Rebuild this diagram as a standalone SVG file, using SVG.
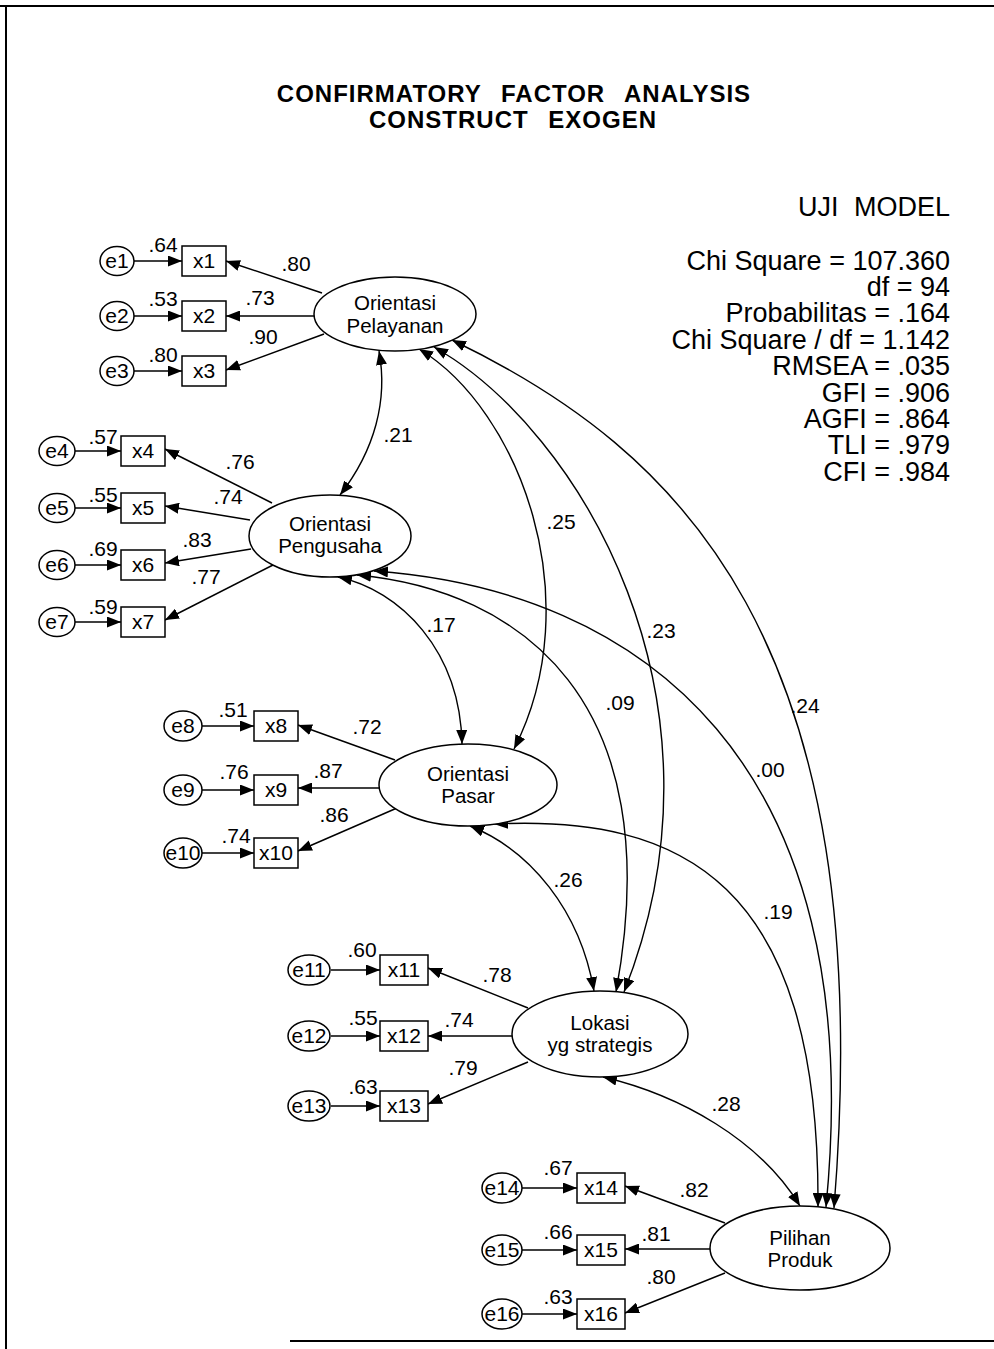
<svg xmlns="http://www.w3.org/2000/svg" width="994" height="1349" viewBox="0 0 994 1349">
<style>
text{font-family:"Liberation Sans",Arial,sans-serif;fill:#000}
.t{font-size:24px;font-weight:bold;text-anchor:middle;word-spacing:12px;letter-spacing:1px}
.s{font-size:27px;text-anchor:end}
.n{font-size:21px;text-anchor:middle}
.lv{font-size:20.5px;text-anchor:middle}
.ob{fill:#fff;stroke:#000;stroke-width:1.5}
.cv{fill:none;stroke:#000;stroke-width:1.4;marker-start:url(#ah);marker-end:url(#ah)}
.ar{fill:none;stroke:#000;stroke-width:1.5;marker-end:url(#ah)}
</style>
<defs>
<marker id="ah" viewBox="0 0 14 11" refX="14" refY="5.5" markerWidth="14" markerHeight="11" markerUnits="userSpaceOnUse" orient="auto-start-reverse">
<path d="M0,0 L14,5.5 L0,11 z" fill="#000"/>
</marker>
</defs>
<rect width="994" height="1349" fill="#fff"/>
<g id="frame">
<line x1="0" y1="6" x2="994" y2="6" stroke="#000" stroke-width="2"/>
<line x1="6" y1="6" x2="6" y2="1349" stroke="#000" stroke-width="2"/>
<line x1="290" y1="1341" x2="994" y2="1341" stroke="#000" stroke-width="2"/>
</g>
<g id="title">
<text class="t" x="514" y="102">CONFIRMATORY FACTOR ANALYSIS</text>
<text class="t" x="513" y="128">CONSTRUCT EXOGEN</text>
</g>
<g id="fit-stats">
<text class="s" x="950" y="216" style="word-spacing:8px">UJI MODEL</text>
<text class="s" x="950" y="270">Chi Square = 107.360</text>
<text class="s" x="950" y="296">df = 94</text>
<text class="s" x="950" y="322">Probabilitas = .164</text>
<text class="s" x="950" y="349">Chi Square / df = 1.142</text>
<text class="s" x="950" y="375">RMSEA = .035</text>
<text class="s" x="950" y="402">GFI = .906</text>
<text class="s" x="950" y="428">AGFI = .864</text>
<text class="s" x="950" y="454">TLI = .979</text>
<text class="s" x="950" y="481">CFI = .984</text>
</g>
<g id="connectors">
<line class="ar" x1="134" y1="261" x2="182" y2="261"/>
<line class="ar" x1="134" y1="316" x2="182" y2="316"/>
<line class="ar" x1="134" y1="371" x2="182" y2="371"/>
<line class="ar" x1="75" y1="451" x2="121" y2="451"/>
<line class="ar" x1="75" y1="508" x2="121" y2="508"/>
<line class="ar" x1="75" y1="565" x2="121" y2="565"/>
<line class="ar" x1="75" y1="622" x2="121" y2="622"/>
<line class="ar" x1="202" y1="726" x2="254" y2="726"/>
<line class="ar" x1="202" y1="790" x2="254" y2="790"/>
<line class="ar" x1="202" y1="853" x2="254" y2="853"/>
<line class="ar" x1="331" y1="970" x2="380" y2="970"/>
<line class="ar" x1="331" y1="1036" x2="380" y2="1036"/>
<line class="ar" x1="331" y1="1106" x2="380" y2="1106"/>
<line class="ar" x1="522" y1="1188" x2="577" y2="1188"/>
<line class="ar" x1="522" y1="1250" x2="577" y2="1250"/>
<line class="ar" x1="522" y1="1314" x2="577" y2="1314"/>
<line class="ar" x1="322" y1="293" x2="226" y2="261"/>
<line class="ar" x1="314" y1="316" x2="226" y2="316"/>
<line class="ar" x1="324" y1="334" x2="226" y2="370"/>
<line class="ar" x1="272" y1="503" x2="165" y2="449"/>
<line class="ar" x1="250" y1="520" x2="165" y2="506"/>
<line class="ar" x1="251" y1="549" x2="165" y2="563"/>
<line class="ar" x1="275" y1="564" x2="165" y2="620"/>
<line class="ar" x1="395" y1="760" x2="298" y2="725"/>
<line class="ar" x1="379" y1="788" x2="298" y2="788"/>
<line class="ar" x1="397" y1="808" x2="298" y2="851"/>
<line class="ar" x1="528" y1="1008" x2="428" y2="968"/>
<line class="ar" x1="512" y1="1036" x2="428" y2="1036"/>
<line class="ar" x1="528" y1="1062" x2="428" y2="1104"/>
<line class="ar" x1="725" y1="1223" x2="625" y2="1186"/>
<line class="ar" x1="710" y1="1249" x2="625" y2="1249"/>
<line class="ar" x1="725" y1="1273" x2="625" y2="1313"/>
<path class="cv" d="M379 351 C388 400,375 450,340 495"/>
<path class="cv" d="M419 349 C520 410,590 600,514 749"/>
<path class="cv" d="M434 347 C580 430,740 700,624 992"/>
<path class="cv" d="M452 340 C680 450,880 640,834 1208"/>
<path class="cv" d="M338 577 C400 590,460 650,462 744"/>
<path class="cv" d="M357 575 C520 590,670 700,616 992"/>
<path class="cv" d="M374 571 C640 590,870 760,826 1207"/>
<path class="cv" d="M470 826 C530 850,580 910,594 991"/>
<path class="cv" d="M494 824 C680 815,820 880,818 1207"/>
<path class="cv" d="M603 1077 C680 1095,760 1140,800 1206"/>
<text class="n" x="163" y="252">.64</text>
<text class="n" x="163" y="306">.53</text>
<text class="n" x="163" y="362">.80</text>
<text class="n" x="296" y="271">.80</text>
<text class="n" x="260" y="305">.73</text>
<text class="n" x="263" y="344">.90</text>
<text class="n" x="103" y="444">.57</text>
<text class="n" x="103" y="502">.55</text>
<text class="n" x="103" y="556">.69</text>
<text class="n" x="103" y="614">.59</text>
<text class="n" x="240" y="469">.76</text>
<text class="n" x="228" y="504">.74</text>
<text class="n" x="197" y="547">.83</text>
<text class="n" x="206" y="584">.77</text>
<text class="n" x="233" y="717">.51</text>
<text class="n" x="234" y="779">.76</text>
<text class="n" x="236" y="843">.74</text>
<text class="n" x="367" y="734">.72</text>
<text class="n" x="328" y="778">.87</text>
<text class="n" x="334" y="822">.86</text>
<text class="n" x="362" y="957">.60</text>
<text class="n" x="363" y="1025">.55</text>
<text class="n" x="363" y="1094">.63</text>
<text class="n" x="497" y="982">.78</text>
<text class="n" x="459" y="1027">.74</text>
<text class="n" x="463" y="1075">.79</text>
<text class="n" x="558" y="1175">.67</text>
<text class="n" x="558" y="1239">.66</text>
<text class="n" x="558" y="1304">.63</text>
<text class="n" x="694" y="1197">.82</text>
<text class="n" x="656" y="1241">.81</text>
<text class="n" x="661" y="1284">.80</text>
<text class="n" x="398" y="442">.21</text>
<text class="n" x="561" y="529">.25</text>
<text class="n" x="441" y="632">.17</text>
<text class="n" x="661" y="638">.23</text>
<text class="n" x="620" y="710">.09</text>
<text class="n" x="805" y="713">.24</text>
<text class="n" x="770" y="777">.00</text>
<text class="n" x="568" y="887">.26</text>
<text class="n" x="778" y="919">.19</text>
<text class="n" x="726" y="1111">.28</text>
</g>
<g id="OrientasiPelayanan"><ellipse class="ob" cx="395" cy="314" rx="81" ry="37"/><text class="lv" x="395" y="310">Orientasi</text><text class="lv" x="395" y="333">Pelayanan</text></g>
<g id="x1"><rect class="ob" x="182" y="246" width="44" height="30"/><text class="n" x="204" y="268">x1</text></g>
<g id="x2"><rect class="ob" x="182" y="301" width="44" height="30"/><text class="n" x="204" y="323">x2</text></g>
<g id="x3"><rect class="ob" x="182" y="356" width="44" height="30"/><text class="n" x="204" y="378">x3</text></g>
<g id="e1"><ellipse class="ob" cx="117" cy="261" rx="17" ry="14.5"/><text class="n" x="117" y="268">e1</text></g>
<g id="e2"><ellipse class="ob" cx="117" cy="316" rx="17" ry="14.5"/><text class="n" x="117" y="323">e2</text></g>
<g id="e3"><ellipse class="ob" cx="117" cy="371" rx="17" ry="14.5"/><text class="n" x="117" y="378">e3</text></g>
<g id="OrientasiPengusaha"><ellipse class="ob" cx="330" cy="536" rx="81" ry="41"/><text class="lv" x="330" y="531">Orientasi</text><text class="lv" x="330" y="553">Pengusaha</text></g>
<g id="x4"><rect class="ob" x="121" y="436" width="44" height="30"/><text class="n" x="143" y="458">x4</text></g>
<g id="x5"><rect class="ob" x="121" y="493" width="44" height="30"/><text class="n" x="143" y="515">x5</text></g>
<g id="x6"><rect class="ob" x="121" y="550" width="44" height="30"/><text class="n" x="143" y="572">x6</text></g>
<g id="x7"><rect class="ob" x="121" y="607" width="44" height="30"/><text class="n" x="143" y="629">x7</text></g>
<g id="e4"><ellipse class="ob" cx="57" cy="451" rx="18" ry="14.5"/><text class="n" x="57" y="458">e4</text></g>
<g id="e5"><ellipse class="ob" cx="57" cy="508" rx="18" ry="14.5"/><text class="n" x="57" y="515">e5</text></g>
<g id="e6"><ellipse class="ob" cx="57" cy="565" rx="18" ry="14.5"/><text class="n" x="57" y="572">e6</text></g>
<g id="e7"><ellipse class="ob" cx="57" cy="622" rx="18" ry="14.5"/><text class="n" x="57" y="629">e7</text></g>
<g id="OrientasiPasar"><ellipse class="ob" cx="468" cy="785" rx="89" ry="41"/><text class="lv" x="468" y="781">Orientasi</text><text class="lv" x="468" y="803">Pasar</text></g>
<g id="x8"><rect class="ob" x="254" y="711" width="44" height="30"/><text class="n" x="276" y="733">x8</text></g>
<g id="x9"><rect class="ob" x="254" y="775" width="44" height="30"/><text class="n" x="276" y="797">x9</text></g>
<g id="x10"><rect class="ob" x="254" y="838" width="44" height="30"/><text class="n" x="276" y="860">x10</text></g>
<g id="e8"><ellipse class="ob" cx="183" cy="726" rx="19" ry="15"/><text class="n" x="183" y="733">e8</text></g>
<g id="e9"><ellipse class="ob" cx="183" cy="790" rx="19" ry="15"/><text class="n" x="183" y="797">e9</text></g>
<g id="e10"><ellipse class="ob" cx="183" cy="853" rx="19" ry="15"/><text class="n" x="183" y="860">e10</text></g>
<g id="Lokasi"><ellipse class="ob" cx="600" cy="1034" rx="88" ry="43"/><text class="lv" x="600" y="1030">Lokasi</text><text class="lv" x="600" y="1052">yg strategis</text></g>
<g id="x11"><rect class="ob" x="380" y="955" width="48" height="30"/><text class="n" x="404" y="977">x11</text></g>
<g id="x12"><rect class="ob" x="380" y="1021" width="48" height="30"/><text class="n" x="404" y="1043">x12</text></g>
<g id="x13"><rect class="ob" x="380" y="1091" width="48" height="30"/><text class="n" x="404" y="1113">x13</text></g>
<g id="e11"><ellipse class="ob" cx="309" cy="970" rx="21" ry="15"/><text class="n" x="309" y="977">e11</text></g>
<g id="e12"><ellipse class="ob" cx="309" cy="1036" rx="21" ry="15"/><text class="n" x="309" y="1043">e12</text></g>
<g id="e13"><ellipse class="ob" cx="309" cy="1106" rx="21" ry="15"/><text class="n" x="309" y="1113">e13</text></g>
<g id="PilihanProduk"><ellipse class="ob" cx="800" cy="1248" rx="90" ry="42"/><text class="lv" x="800" y="1245">Pilihan</text><text class="lv" x="800" y="1267">Produk</text></g>
<g id="x14"><rect class="ob" x="577" y="1173" width="48" height="30"/><text class="n" x="601" y="1195">x14</text></g>
<g id="x15"><rect class="ob" x="577" y="1235" width="48" height="30"/><text class="n" x="601" y="1257">x15</text></g>
<g id="x16"><rect class="ob" x="577" y="1299" width="48" height="30"/><text class="n" x="601" y="1321">x16</text></g>
<g id="e14"><ellipse class="ob" cx="502" cy="1188" rx="20" ry="15"/><text class="n" x="502" y="1195">e14</text></g>
<g id="e15"><ellipse class="ob" cx="502" cy="1250" rx="20" ry="15"/><text class="n" x="502" y="1257">e15</text></g>
<g id="e16"><ellipse class="ob" cx="502" cy="1314" rx="20" ry="15"/><text class="n" x="502" y="1321">e16</text></g>
</svg>
